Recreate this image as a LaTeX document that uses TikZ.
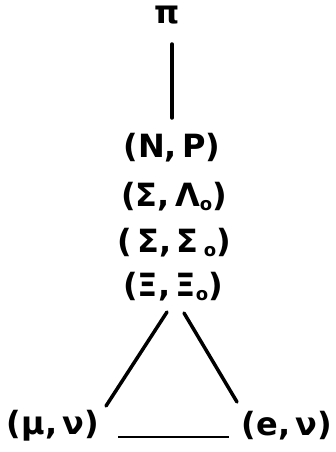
\documentclass[tikz,border=0pt]{standalone}
\usepackage{fontspec}
\setmainfont{DejaVu Sans}
\newcommand{\lowsub}[1]{\raisebox{-0.1em}{\fontsize{18}{18}\selectfont #1}}
\begin{document}
\begin{tikzpicture}[x=1pt,y=-1pt,
  lbl/.style={inner sep=0pt,font=\fontsize{32}{36}\selectfont\bfseries},
  edge/.style={line width=3.5pt,line cap=round},
  thin edge/.style={line width=2pt}]
\useasboundingbox (0,0) rectangle (335,452);
\node[lbl] (pi) at (167,15) {π};
\node[lbl] (np) at (172,148) {(N,\,P)};
\node[lbl] (sl) at (174,197) {(Σ,\,Λ\lowsub{o})};
\node[lbl] (ss) at (174,243) {(\,Σ,\,Σ\,\lowsub{o})};
\node[lbl] (xx) at (173,287) {(Ξ,\,Ξ\lowsub{o})};
\node[lbl] (mn) at (53,426) {(μ,\,ν)};
\node[lbl] (en) at (287,426) {(e,\,ν)};
\coordinate (a1) at (172,44);
\coordinate (a2) at (172,118);
\coordinate (l1) at (167,312);
\coordinate (l2) at (106,406);
\coordinate (r1) at (184,313);
\coordinate (r2) at (237,402);
\coordinate (h1) at (118,437);
\coordinate (h2) at (229,437);
\draw[edge] (a1) -- (a2);
\draw[edge] (l1) -- (l2);
\draw[edge] (r1) -- (r2);
\draw[thin edge] (h1) -- (h2);
\end{tikzpicture}
\end{document}
